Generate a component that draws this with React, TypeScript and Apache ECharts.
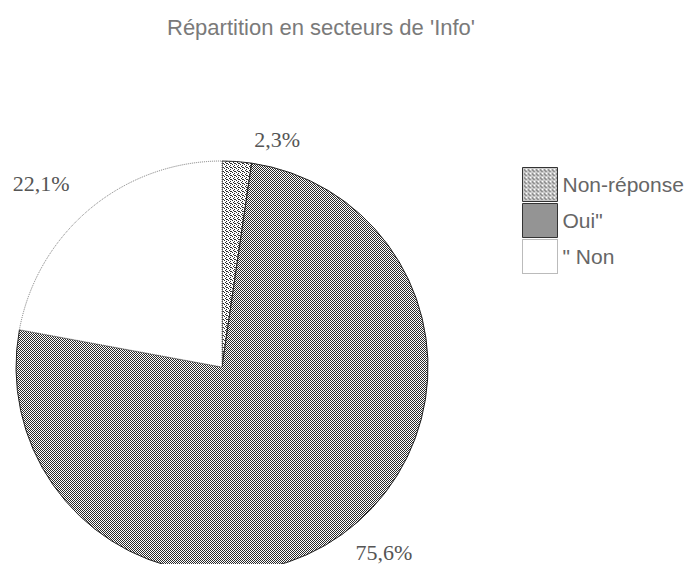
import React, { useEffect, useRef } from "react";
import * as echarts from "echarts";

const titleText = "Répartition en secteurs de 'Info'";
const categories = ["Non-réponse", "Oui\"", "\" Non"];
const values = [2.3, 75.6, 22.1];
const labelTexts = ["2,3%", "75,6%", "22,1%"];

const lightCells = [[0, 0], [2, 1], [1, 2], [3, 3], [2, 3]];
const darkCells = [[0, 0], [2, 0], [1, 1], [3, 1], [0, 2], [2, 2], [1, 3], [3, 3]];

function makePattern(cells: number[][]): HTMLCanvasElement {
  const c = document.createElement("canvas");
  c.width = 4;
  c.height = 4;
  const ctx = c.getContext("2d")!;
  ctx.fillStyle = "#ffffff";
  ctx.fillRect(0, 0, 4, 4);
  ctx.fillStyle = "#2a2a2a";
  cells.forEach(([x, y]) => ctx.fillRect(x, y, 1, 1));
  return c;
}

export default function App() {
  const ref = useRef<HTMLDivElement>(null);
  useEffect(() => {
    if (!ref.current) return;
    const chart = echarts.init(ref.current, null, { renderer: "svg" });
    const mkFills = (): any[] => [
      { image: makePattern(lightCells), repeat: "repeat" },
      { image: makePattern(darkCells), repeat: "repeat" },
      "#ffffff",
    ];
    const fills = mkFills();
    const legendFills = mkFills();
    const offsets = [
      { dx: 11, dy: -4 },
      { dx: -2, dy: 3 },
      { dx: -4, dy: -11 },
    ];
    chart.setOption({
      animation: false,
      backgroundColor: "#ffffff",
      title: {
        text: titleText,
        left: 154,
        top: 3,
        textStyle: {
          fontFamily: "Liberation Sans, Arial, sans-serif",
          fontSize: 22,
          fontWeight: "normal",
          color: "#7a7a7a",
        },
      },
      legend: {
        orient: "vertical",
        left: 509,
        top: 154,
        itemWidth: 35,
        itemHeight: 34,
        itemGap: 1,
        icon: "rect",
        selectedMode: false,
        textStyle: {
          fontFamily: "Liberation Sans, Arial, sans-serif",
          fontSize: 21,
          color: "#666",
          padding: [0, 0, 0, 0],
        },
        data: categories.map((name, i) => ({
          name,
          itemStyle: {
            color: legendFills[i],
            borderColor: i === 2 ? "#777" : "#333",
            borderWidth: 1,
            borderType: i === 2 ? "dotted" : "solid",
          },
        })),
      },
      series: [
        {
          type: "pie",
          center: [214, 359],
          radius: 206,
          startAngle: 90,
          clockwise: true,
          data: categories.map((name, i) => ({
            name,
            value: values[i],
            itemStyle: {
              color: fills[i],
              borderColor: i === 2 ? "#777" : "#222",
              borderWidth: 1,
              borderType: i === 2 ? "dotted" : "solid",
            },
            label: { formatter: labelTexts[i] },
          })),
          label: {
            show: true,
            position: "outside",
            overflow: "none",
            edgeDistance: 0,
            bleedMargin: 0,
            fontFamily: "Liberation Serif, Times New Roman, serif",
            fontSize: 22,
            color: "#555",
          },
          labelLine: { show: false, length: 18, length2: 0 },
          labelLayout: (p: any) => offsets[p.dataIndex],
          emphasis: { disabled: true },
        },
      ],
    });
    return () => chart.dispose();
  }, []);
  return <div ref={ref} style={{ width: 684, height: 556 }} />;
}
